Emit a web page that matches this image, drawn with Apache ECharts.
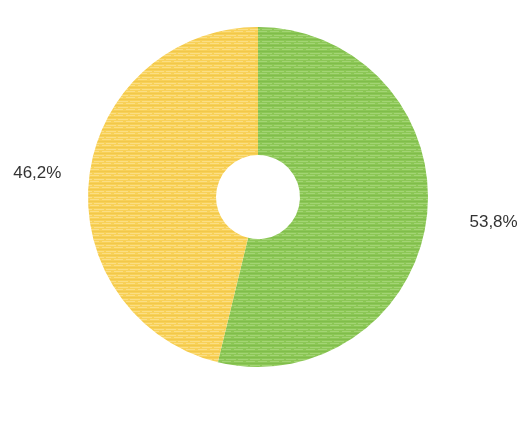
<!DOCTYPE html>
<html>
<head>
<meta charset="utf-8">
<script src="https://cdn.jsdelivr.net/npm/echarts@6/dist/echarts.min.js"></script>
<style>
  html, body { margin: 0; padding: 0; background: #fff; }
  #pie { width: 520px; height: 428px; }
</style>
</head>
<body>
<div id="pie"></div>
<script>
const categories = ["A", "B"];
const values = [53.8, 46.2];
const labels = ["53,8%", "46,2%"];

// horizontal-stripe texture like the reference fill
function stripes(base, light, dark) {
  const c = document.createElement("canvas");
  c.width = 12;
  c.height = 6;
  const ctx = c.getContext("2d");
  const rows = [base, light, base, dark, base, light];
  rows.forEach((col, i) => {
    ctx.fillStyle = col;
    ctx.fillRect(0, i, 12, 1);
  });
  ctx.fillStyle = base;
  ctx.fillRect(3, 1, 3, 1);
  ctx.fillRect(8, 5, 2, 1);
  return { image: c, repeat: "repeat" };
}

const fills = [
  stripes("#8cc756", "#a3d475", "#80bd4b"),
  stripes("#f8d158", "#fbde85", "#f2c84a"),
];
const lineLen = [43, 28];

const myChart = echarts.init(document.getElementById("pie"));

const data = categories.map((name, i) => ({
  name,
  value: values[i],
  itemStyle: { color: fills[i] },
  label: { formatter: labels[i] },
  labelLine: { length: lineLen[i] },
}));

const option = {
  animation: false,
  series: [
    {
      type: "pie",
      center: [258, 197],
      radius: [42, 170],
      startAngle: 90,
      clockwise: true,
      avoidLabelOverlap: false,
      label: {
        show: true,
        position: "outside",
        fontFamily: "Arial, 'Liberation Sans', sans-serif",
        fontSize: 17,
        color: "#333",
        distanceToLabelLine: 0,
      },
      labelLine: { show: false, length2: 0 },
      emphasis: { disabled: true },
      data: data,
    },
  ],
};
myChart.setOption(option);
</script>
</body>
</html>
